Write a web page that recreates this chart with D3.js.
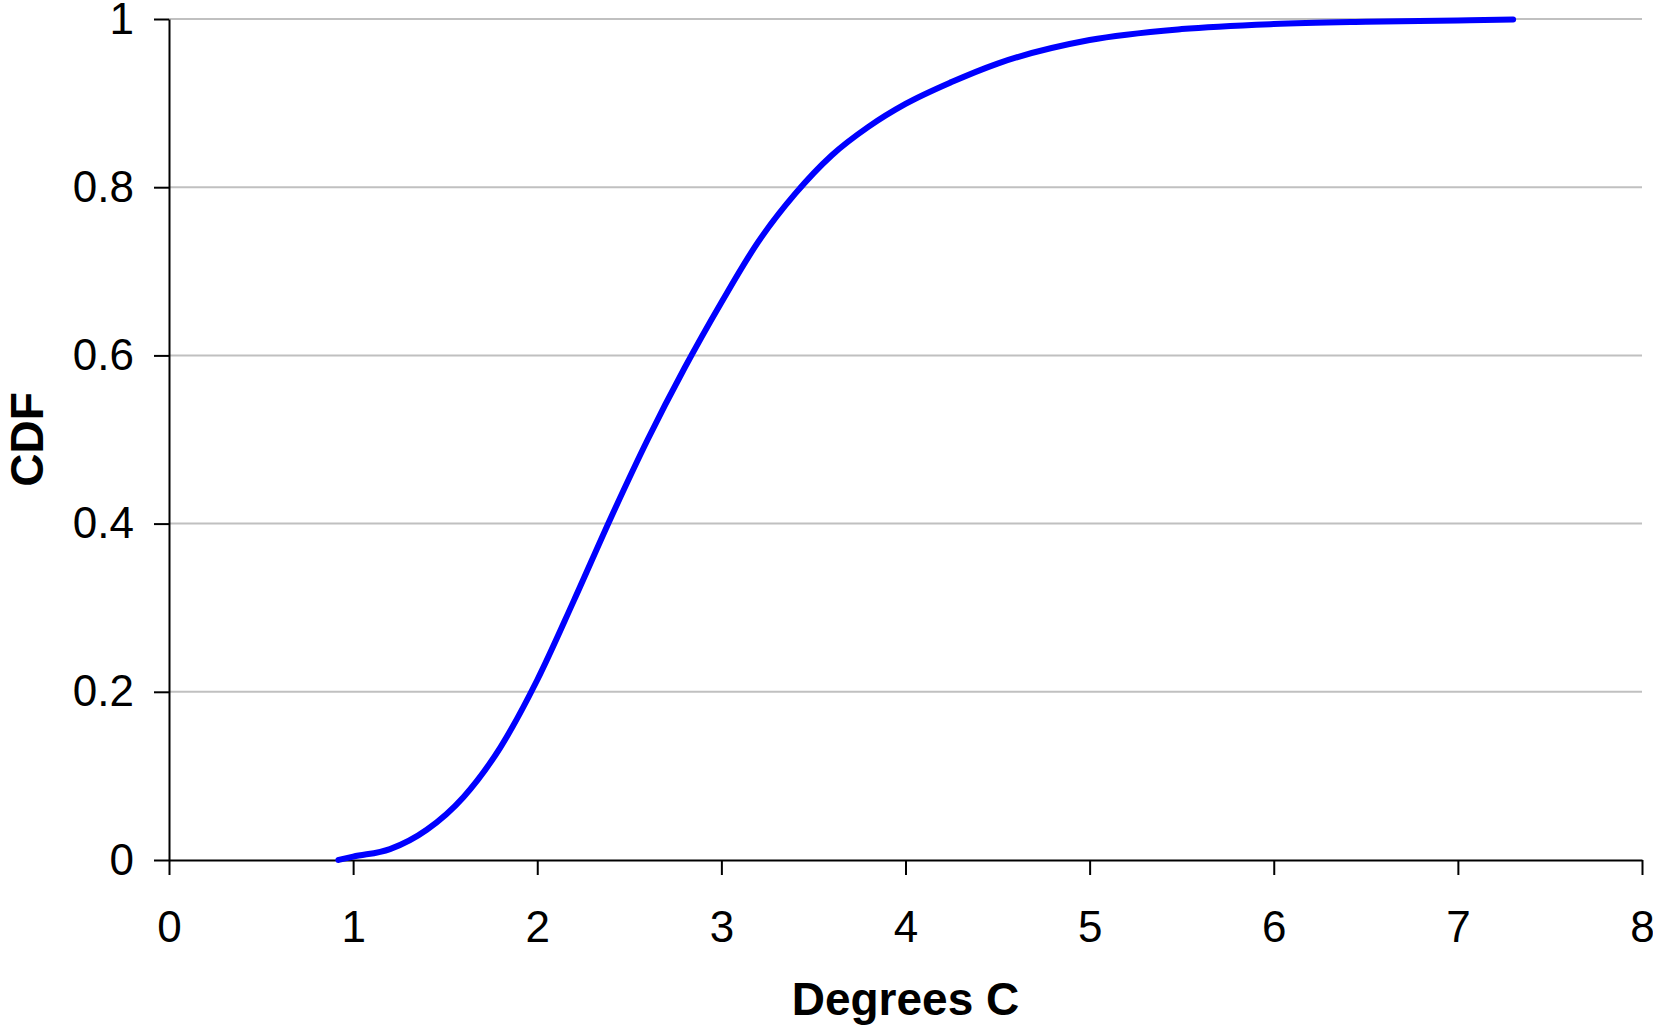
<!DOCTYPE html>
<html>
<head>
<meta charset="utf-8">
<script src="https://cdn.jsdelivr.net/npm/d3@7"></script>
<style>
  body { margin: 0; background: #fff; }
  svg text { font-family: "Liberation Sans", Arial, sans-serif; fill: #000; }
</style>
</head>
<body>
<svg width="1653" height="1025"></svg>
<script>
// values
const degrees = [0.92, 1.0, 1.2, 1.4, 1.6, 1.8, 2.0, 2.2, 2.4, 2.6, 2.8, 3.0, 3.2, 3.4, 3.6, 3.8, 4.0, 4.25, 4.5, 5.0, 5.5, 6.0, 6.5, 7.0, 7.3];
const cdf = [0.0, 0.004, 0.013, 0.036, 0.075, 0.134, 0.214, 0.309, 0.407, 0.5, 0.585, 0.663, 0.735, 0.792, 0.838, 0.872, 0.899, 0.925, 0.947, 0.975, 0.988, 0.994, 0.9967, 0.9983, 0.9995];
const xTicks = [0, 1, 2, 3, 4, 5, 6, 7, 8];
const yTicks = [0, 0.2, 0.4, 0.6, 0.8, 1];

const svg = d3.select("svg");
const plotLeft = 169, plotRight = 1642, plotTop = 19, plotBottom = 860;

const x = d3.scaleLinear().domain([0, 8]).range([plotLeft, plotRight]);
const y = d3.scaleLinear().domain([0, 1]).range([plotBottom, plotTop]);

// gridlines
svg.append("g")
    .selectAll("line")
    .data(yTicks.filter(d => d > 0))
    .enter().append("line")
    .attr("x1", plotLeft)
    .attr("x2", plotRight)
    .attr("y1", d => y(d))
    .attr("y2", d => y(d))
    .attr("stroke", "#c0c0c0")
    .attr("stroke-width", 2);

const xAxis = svg.append("g")
    .attr("transform", "translate(0," + plotBottom + ")")
    .call(d3.axisBottom(x).tickValues(xTicks).tickFormat(d3.format("d"))
        .tickSizeInner(15).tickSizeOuter(0).tickPadding(36));

const yAxis = svg.append("g")
    .attr("transform", "translate(" + plotLeft + ",0)")
    .call(d3.axisLeft(y).tickValues(yTicks).tickFormat(d => d === 0 || d === 1 ? d3.format("d")(d) : d3.format(".1f")(d))
        .tickSizeInner(15).tickSizeOuter(0).tickPadding(20));

[xAxis, yAxis].forEach(a => {
    a.select(".domain").attr("stroke", "#000").attr("stroke-width", 2);
    a.selectAll(".tick line").attr("stroke", "#000").attr("stroke-width", 2);
    a.selectAll(".tick text").attr("font-size", 44).attr("fill", "#000")
        .style("font-family", "'Liberation Sans', Arial, sans-serif");
});

const line = d3.line()
    .x((d, i) => x(degrees[i]))
    .y(d => y(d))
    .curve(d3.curveMonotoneX);

svg.append("path")
    .datum(cdf)
    .attr("d", line)
    .attr("fill", "none")
    .attr("stroke", "#0000ff")
    .attr("stroke-width", 6)
    .attr("stroke-linecap", "round");

// axis titles
svg.append("text")
    .attr("x", (plotLeft + plotRight) / 2)
    .attr("y", 1015)
    .attr("text-anchor", "middle")
    .attr("font-size", 46)
    .attr("font-weight", "bold")
    .text("Degrees C");

svg.append("text")
    .attr("transform", "translate(43," + (plotTop + plotBottom) / 2 + ") rotate(-90)")
    .attr("text-anchor", "middle")
    .attr("font-size", 46)
    .attr("font-weight", "bold")
    .text("CDF");
</script>
</body>
</html>
